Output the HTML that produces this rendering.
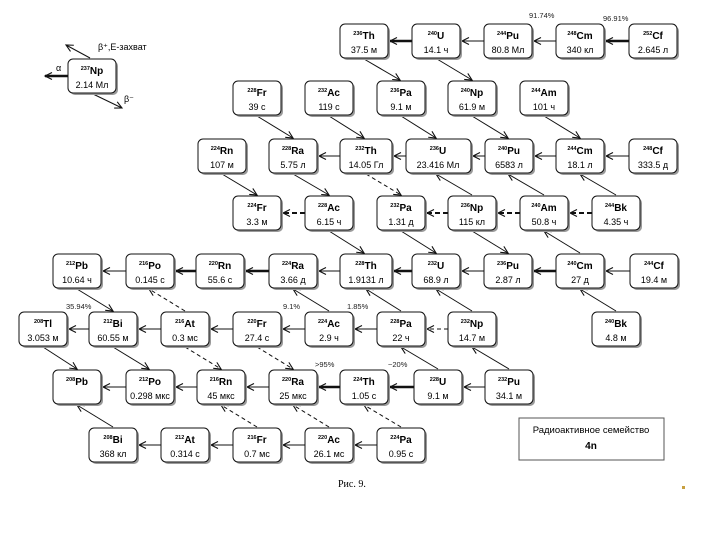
<!DOCTYPE html>
<html><head><meta charset="utf-8"><style>
html,body{margin:0;padding:0;background:#fff}
svg{display:block}
.m{font:bold 5.5px "Liberation Sans",sans-serif}
.y{font:bold 10px "Liberation Sans",sans-serif}
.l{font:9px "Liberation Sans","DejaVu Sans",sans-serif}
.p{font:7.5px "Liberation Sans",sans-serif;fill:#222}
line{stroke:#111;stroke-width:1;marker-end:url(#a)}
line.t{stroke-width:2.5;marker-end:url(#a)}
line.d{stroke-dasharray:4,3}
line.dt{stroke-dasharray:5,3;stroke-width:2}
</style></head><body>
<svg width="720" height="540" viewBox="0 0 720 540" xmlns="http://www.w3.org/2000/svg">
<defs>
<marker id="a" markerWidth="10" markerHeight="10" refX="8" refY="4" orient="auto" markerUnits="userSpaceOnUse">
<path d="M1,0.5 L8,4 L1,7.5" fill="none" stroke="#111" stroke-width="1.1"/>
</marker>
<g id="bx"><rect x="2" y="2" width="48" height="34" rx="5" fill="#9a9a9a"/><rect x="0" y="0" width="48" height="34" rx="5" fill="#fff" stroke="#111" stroke-width="1"/></g>
<g id="bw"><rect x="2" y="2" width="52" height="34" rx="5" fill="#9a9a9a"/><rect x="0" y="0" width="52" height="34" rx="5" fill="#fff" stroke="#111" stroke-width="1"/></g>
<g id="bu"><rect x="2" y="2" width="65" height="34" rx="5" fill="#9a9a9a"/><rect x="0" y="0" width="65" height="34" rx="5" fill="#fff" stroke="#111" stroke-width="1"/></g>
</defs>

<!-- legend Np237 -->
<line class="t" x1="68" y1="76" x2="45" y2="76"/>
<line x1="90" y1="58" x2="66" y2="45"/>
<line x1="93" y1="94" x2="122" y2="108"/>
<text class="l" x="56" y="71" font-size="8">α</text>
<text class="l" x="98" y="50" font-size="10">β⁺,E-захват</text>
<text class="l" x="124" y="102" font-size="10">β⁻</text>
<g transform="translate(68,59)"><use href="#bx"/><text x="24" y="15" text-anchor="middle"><tspan class="m" dy="-4">237</tspan><tspan class="y" dy="4">Np</tspan></text><text class="l" x="24" y="29" text-anchor="middle">2.14 Мл</text></g>

<!-- horizontal arrows -->
<line class="t" x1="412" y1="41" x2="390" y2="41"/>
<line x1="484" y1="41" x2="462" y2="41"/>
<line x1="556" y1="41" x2="534" y2="41"/>
<line class="t" x1="629" y1="41" x2="606" y2="41"/>

<line x1="340" y1="156" x2="319" y2="156"/>
<line x1="406" y1="156" x2="394" y2="156"/>
<line x1="485" y1="156" x2="473" y2="156"/>
<line x1="556" y1="156" x2="535" y2="156"/>
<line x1="629" y1="156" x2="606" y2="156"/>

<line class="dt" x1="305" y1="213" x2="283" y2="213"/>
<line class="dt" x1="448" y1="213" x2="427" y2="213"/>
<line class="dt" x1="520" y1="213" x2="498" y2="213"/>
<line class="dt" x1="592" y1="213" x2="570" y2="213"/>

<line x1="126" y1="271" x2="103" y2="271"/>
<line class="t" x1="196" y1="271" x2="176" y2="271"/>
<line class="t" x1="269" y1="271" x2="246" y2="271"/>
<line x1="340" y1="271" x2="319" y2="271"/>
<line class="t" x1="412" y1="271" x2="394" y2="271"/>
<line x1="484" y1="271" x2="462" y2="271"/>
<line class="t" x1="556" y1="271" x2="534" y2="271"/>
<line x1="630" y1="271" x2="606" y2="271"/>

<line x1="89" y1="329" x2="69" y2="329"/>
<line x1="161" y1="329" x2="139" y2="329"/>
<line x1="233" y1="329" x2="211" y2="329"/>
<line x1="305" y1="329" x2="283" y2="329"/>
<line x1="377" y1="329" x2="355" y2="329"/>
<line class="d" x1="448" y1="329" x2="427" y2="329"/>

<line x1="126" y1="387" x2="103" y2="387"/>
<line x1="197" y1="387" x2="176" y2="387"/>
<line x1="269" y1="387" x2="247" y2="387"/>
<line class="t" x1="340" y1="387" x2="319" y2="387"/>
<line class="t" x1="414" y1="387" x2="390" y2="387"/>
<line x1="485" y1="387" x2="464" y2="387"/>

<line x1="161" y1="445" x2="139" y2="445"/>
<line x1="233" y1="445" x2="211" y2="445"/>
<line x1="305" y1="445" x2="283" y2="445"/>
<line x1="377" y1="445" x2="355" y2="445"/>

<!-- diagonals -->
<line x1="364" y1="59" x2="400" y2="80"/>
<line x1="437" y1="59" x2="472" y2="80"/>
<line x1="257" y1="116" x2="293" y2="138"/>
<line x1="329" y1="116" x2="364" y2="138"/>
<line x1="401" y1="116" x2="436" y2="138"/>
<line x1="472" y1="116" x2="508" y2="138"/>
<line x1="544" y1="116" x2="580" y2="138"/>
<line x1="222" y1="174" x2="257" y2="195"/>
<line x1="293" y1="174" x2="329" y2="195"/>
<line class="d" x1="366" y1="174" x2="401" y2="195"/>
<line x1="329" y1="231" x2="364" y2="253"/>
<line x1="401" y1="231" x2="436" y2="253"/>
<line x1="472" y1="231" x2="508" y2="253"/>
<line x1="77" y1="289" x2="113" y2="311"/>
<line x1="43" y1="347" x2="77" y2="369"/>
<line x1="113" y1="347" x2="149" y2="369"/>
<line class="d" x1="185" y1="347" x2="221" y2="369"/>
<line class="d" x1="257" y1="347" x2="293" y2="369"/>

<line x1="472" y1="195" x2="436" y2="174"/>
<line x1="544" y1="195" x2="508" y2="174"/>
<line x1="616" y1="195" x2="580" y2="174"/>
<line x1="580" y1="253" x2="544" y2="231"/>
<line x1="329" y1="311" x2="293" y2="289"/>
<line x1="401" y1="311" x2="366" y2="289"/>
<line x1="472" y1="311" x2="436" y2="289"/>
<line x1="616" y1="311" x2="580" y2="289"/>
<line class="d" x1="185" y1="311" x2="149" y2="289"/>
<line x1="438" y1="369" x2="401" y2="347"/>
<line x1="509" y1="369" x2="472" y2="347"/>
<line x1="113" y1="427" x2="77" y2="405"/>
<line class="d" x1="257" y1="427" x2="221" y2="405"/>
<line class="d" x1="329" y1="427" x2="293" y2="405"/>
<line class="d" x1="401" y1="427" x2="364" y2="405"/>

<!-- percent labels -->
<text class="p" x="529" y="18">91.74%</text>
<text class="p" x="603" y="21">96.91%</text>
<text class="p" x="66" y="309">35.94%</text>
<text class="p" x="283" y="309">9.1%</text>
<text class="p" x="347" y="309">1.85%</text>
<text class="p" x="315" y="367">&gt;95%</text>
<text class="p" x="388" y="367">~20%</text>

<!-- boxes -->
<g transform="translate(340,24)"><use href="#bx"/><text x="24" y="15" text-anchor="middle"><tspan class="m" dy="-4">236</tspan><tspan class="y" dy="4">Th</tspan></text><text class="l" x="24" y="29" text-anchor="middle">37.5 м</text></g>
<g transform="translate(412,24)"><use href="#bx"/><text x="24" y="15" text-anchor="middle"><tspan class="m" dy="-4">240</tspan><tspan class="y" dy="4">U</tspan></text><text class="l" x="24" y="29" text-anchor="middle">14.1 ч</text></g>
<g transform="translate(484,24)"><use href="#bx"/><text x="24" y="15" text-anchor="middle"><tspan class="m" dy="-4">244</tspan><tspan class="y" dy="4">Pu</tspan></text><text class="l" x="24" y="29" text-anchor="middle">80.8 Мл</text></g>
<g transform="translate(556,24)"><use href="#bx"/><text x="24" y="15" text-anchor="middle"><tspan class="m" dy="-4">248</tspan><tspan class="y" dy="4">Cm</tspan></text><text class="l" x="24" y="29" text-anchor="middle">340 кл</text></g>
<g transform="translate(629,24)"><use href="#bx"/><text x="24" y="15" text-anchor="middle"><tspan class="m" dy="-4">252</tspan><tspan class="y" dy="4">Cf</tspan></text><text class="l" x="24" y="29" text-anchor="middle">2.645 л</text></g>

<g transform="translate(233,81)"><use href="#bx"/><text x="24" y="15" text-anchor="middle"><tspan class="m" dy="-4">228</tspan><tspan class="y" dy="4">Fr</tspan></text><text class="l" x="24" y="29" text-anchor="middle">39 с</text></g>
<g transform="translate(305,81)"><use href="#bx"/><text x="24" y="15" text-anchor="middle"><tspan class="m" dy="-4">232</tspan><tspan class="y" dy="4">Ac</tspan></text><text class="l" x="24" y="29" text-anchor="middle">119 с</text></g>
<g transform="translate(377,81)"><use href="#bx"/><text x="24" y="15" text-anchor="middle"><tspan class="m" dy="-4">236</tspan><tspan class="y" dy="4">Pa</tspan></text><text class="l" x="24" y="29" text-anchor="middle">9.1 м</text></g>
<g transform="translate(448,81)"><use href="#bx"/><text x="24" y="15" text-anchor="middle"><tspan class="m" dy="-4">240</tspan><tspan class="y" dy="4">Np</tspan></text><text class="l" x="24" y="29" text-anchor="middle">61.9 м</text></g>
<g transform="translate(520,81)"><use href="#bx"/><text x="24" y="15" text-anchor="middle"><tspan class="m" dy="-4">244</tspan><tspan class="y" dy="4">Am</tspan></text><text class="l" x="24" y="29" text-anchor="middle">101 ч</text></g>

<g transform="translate(198,139)"><use href="#bx"/><text x="24" y="15" text-anchor="middle"><tspan class="m" dy="-4">224</tspan><tspan class="y" dy="4">Rn</tspan></text><text class="l" x="24" y="29" text-anchor="middle">107 м</text></g>
<g transform="translate(269,139)"><use href="#bx"/><text x="24" y="15" text-anchor="middle"><tspan class="m" dy="-4">228</tspan><tspan class="y" dy="4">Ra</tspan></text><text class="l" x="24" y="29" text-anchor="middle">5.75 л</text></g>
<g transform="translate(340,139)"><use href="#bw"/><text x="26" y="15" text-anchor="middle"><tspan class="m" dy="-4">232</tspan><tspan class="y" dy="4">Th</tspan></text><text class="l" x="26" y="29" text-anchor="middle">14.05 Гл</text></g>
<g transform="translate(406,139)"><use href="#bu"/><text x="32" y="15" text-anchor="middle"><tspan class="m" dy="-4">236</tspan><tspan class="y" dy="4">U</tspan></text><text class="l" x="32" y="29" text-anchor="middle">23.416 Мл</text></g>
<g transform="translate(485,139)"><use href="#bx"/><text x="24" y="15" text-anchor="middle"><tspan class="m" dy="-4">240</tspan><tspan class="y" dy="4">Pu</tspan></text><text class="l" x="24" y="29" text-anchor="middle">6583 л</text></g>
<g transform="translate(556,139)"><use href="#bx"/><text x="24" y="15" text-anchor="middle"><tspan class="m" dy="-4">244</tspan><tspan class="y" dy="4">Cm</tspan></text><text class="l" x="24" y="29" text-anchor="middle">18.1 л</text></g>
<g transform="translate(629,139)"><use href="#bx"/><text x="24" y="15" text-anchor="middle"><tspan class="m" dy="-4">248</tspan><tspan class="y" dy="4">Cf</tspan></text><text class="l" x="24" y="29" text-anchor="middle">333.5 д</text></g>

<g transform="translate(233,196)"><use href="#bx"/><text x="24" y="15" text-anchor="middle"><tspan class="m" dy="-4">224</tspan><tspan class="y" dy="4">Fr</tspan></text><text class="l" x="24" y="29" text-anchor="middle">3.3 м</text></g>
<g transform="translate(305,196)"><use href="#bx"/><text x="24" y="15" text-anchor="middle"><tspan class="m" dy="-4">228</tspan><tspan class="y" dy="4">Ac</tspan></text><text class="l" x="24" y="29" text-anchor="middle">6.15 ч</text></g>
<g transform="translate(377,196)"><use href="#bx"/><text x="24" y="15" text-anchor="middle"><tspan class="m" dy="-4">232</tspan><tspan class="y" dy="4">Pa</tspan></text><text class="l" x="24" y="29" text-anchor="middle">1.31 д</text></g>
<g transform="translate(448,196)"><use href="#bx"/><text x="24" y="15" text-anchor="middle"><tspan class="m" dy="-4">236</tspan><tspan class="y" dy="4">Np</tspan></text><text class="l" x="24" y="29" text-anchor="middle">115 кл</text></g>
<g transform="translate(520,196)"><use href="#bx"/><text x="24" y="15" text-anchor="middle"><tspan class="m" dy="-4">240</tspan><tspan class="y" dy="4">Am</tspan></text><text class="l" x="24" y="29" text-anchor="middle">50.8 ч</text></g>
<g transform="translate(592,196)"><use href="#bx"/><text x="24" y="15" text-anchor="middle"><tspan class="m" dy="-4">244</tspan><tspan class="y" dy="4">Bk</tspan></text><text class="l" x="24" y="29" text-anchor="middle">4.35 ч</text></g>

<g transform="translate(53,254)"><use href="#bx"/><text x="24" y="15" text-anchor="middle"><tspan class="m" dy="-4">212</tspan><tspan class="y" dy="4">Pb</tspan></text><text class="l" x="24" y="29" text-anchor="middle">10.64 ч</text></g>
<g transform="translate(126,254)"><use href="#bx"/><text x="24" y="15" text-anchor="middle"><tspan class="m" dy="-4">216</tspan><tspan class="y" dy="4">Po</tspan></text><text class="l" x="24" y="29" text-anchor="middle">0.145 с</text></g>
<g transform="translate(196,254)"><use href="#bx"/><text x="24" y="15" text-anchor="middle"><tspan class="m" dy="-4">220</tspan><tspan class="y" dy="4">Rn</tspan></text><text class="l" x="24" y="29" text-anchor="middle">55.6 с</text></g>
<g transform="translate(269,254)"><use href="#bx"/><text x="24" y="15" text-anchor="middle"><tspan class="m" dy="-4">224</tspan><tspan class="y" dy="4">Ra</tspan></text><text class="l" x="24" y="29" text-anchor="middle">3.66 д</text></g>
<g transform="translate(340,254)"><use href="#bw"/><text x="26" y="15" text-anchor="middle"><tspan class="m" dy="-4">228</tspan><tspan class="y" dy="4">Th</tspan></text><text class="l" x="26" y="29" text-anchor="middle">1.9131 л</text></g>
<g transform="translate(412,254)"><use href="#bx"/><text x="24" y="15" text-anchor="middle"><tspan class="m" dy="-4">232</tspan><tspan class="y" dy="4">U</tspan></text><text class="l" x="24" y="29" text-anchor="middle">68.9 л</text></g>
<g transform="translate(484,254)"><use href="#bx"/><text x="24" y="15" text-anchor="middle"><tspan class="m" dy="-4">236</tspan><tspan class="y" dy="4">Pu</tspan></text><text class="l" x="24" y="29" text-anchor="middle">2.87 л</text></g>
<g transform="translate(556,254)"><use href="#bx"/><text x="24" y="15" text-anchor="middle"><tspan class="m" dy="-4">240</tspan><tspan class="y" dy="4">Cm</tspan></text><text class="l" x="24" y="29" text-anchor="middle">27 д</text></g>
<g transform="translate(630,254)"><use href="#bx"/><text x="24" y="15" text-anchor="middle"><tspan class="m" dy="-4">244</tspan><tspan class="y" dy="4">Cf</tspan></text><text class="l" x="24" y="29" text-anchor="middle">19.4 м</text></g>

<g transform="translate(19,312)"><use href="#bx"/><text x="24" y="15" text-anchor="middle"><tspan class="m" dy="-4">208</tspan><tspan class="y" dy="4">Tl</tspan></text><text class="l" x="24" y="29" text-anchor="middle">3.053 м</text></g>
<g transform="translate(89,312)"><use href="#bx"/><text x="24" y="15" text-anchor="middle"><tspan class="m" dy="-4">212</tspan><tspan class="y" dy="4">Bi</tspan></text><text class="l" x="24" y="29" text-anchor="middle">60.55 м</text></g>
<g transform="translate(161,312)"><use href="#bx"/><text x="24" y="15" text-anchor="middle"><tspan class="m" dy="-4">216</tspan><tspan class="y" dy="4">At</tspan></text><text class="l" x="24" y="29" text-anchor="middle">0.3 мс</text></g>
<g transform="translate(233,312)"><use href="#bx"/><text x="24" y="15" text-anchor="middle"><tspan class="m" dy="-4">220</tspan><tspan class="y" dy="4">Fr</tspan></text><text class="l" x="24" y="29" text-anchor="middle">27.4 с</text></g>
<g transform="translate(305,312)"><use href="#bx"/><text x="24" y="15" text-anchor="middle"><tspan class="m" dy="-4">224</tspan><tspan class="y" dy="4">Ac</tspan></text><text class="l" x="24" y="29" text-anchor="middle">2.9 ч</text></g>
<g transform="translate(377,312)"><use href="#bx"/><text x="24" y="15" text-anchor="middle"><tspan class="m" dy="-4">228</tspan><tspan class="y" dy="4">Pa</tspan></text><text class="l" x="24" y="29" text-anchor="middle">22 ч</text></g>
<g transform="translate(448,312)"><use href="#bx"/><text x="24" y="15" text-anchor="middle"><tspan class="m" dy="-4">232</tspan><tspan class="y" dy="4">Np</tspan></text><text class="l" x="24" y="29" text-anchor="middle">14.7 м</text></g>
<g transform="translate(592,312)"><use href="#bx"/><text x="24" y="15" text-anchor="middle"><tspan class="m" dy="-4">240</tspan><tspan class="y" dy="4">Bk</tspan></text><text class="l" x="24" y="29" text-anchor="middle">4.8 м</text></g>

<g transform="translate(53,370)"><use href="#bx"/><text x="24" y="15" text-anchor="middle"><tspan class="m" dy="-4">208</tspan><tspan class="y" dy="4">Pb</tspan></text></g>
<g transform="translate(126,370)"><use href="#bx"/><text x="24" y="15" text-anchor="middle"><tspan class="m" dy="-4">212</tspan><tspan class="y" dy="4">Po</tspan></text><text class="l" x="24" y="29" text-anchor="middle" font-size="8.5">0.298 мкс</text></g>
<g transform="translate(197,370)"><use href="#bx"/><text x="24" y="15" text-anchor="middle"><tspan class="m" dy="-4">216</tspan><tspan class="y" dy="4">Rn</tspan></text><text class="l" x="24" y="29" text-anchor="middle">45 мкс</text></g>
<g transform="translate(269,370)"><use href="#bx"/><text x="24" y="15" text-anchor="middle"><tspan class="m" dy="-4">220</tspan><tspan class="y" dy="4">Ra</tspan></text><text class="l" x="24" y="29" text-anchor="middle">25 мкс</text></g>
<g transform="translate(340,370)"><use href="#bx"/><text x="24" y="15" text-anchor="middle"><tspan class="m" dy="-4">224</tspan><tspan class="y" dy="4">Th</tspan></text><text class="l" x="24" y="29" text-anchor="middle">1.05 с</text></g>
<g transform="translate(414,370)"><use href="#bx"/><text x="24" y="15" text-anchor="middle"><tspan class="m" dy="-4">228</tspan><tspan class="y" dy="4">U</tspan></text><text class="l" x="24" y="29" text-anchor="middle">9.1 м</text></g>
<g transform="translate(485,370)"><use href="#bx"/><text x="24" y="15" text-anchor="middle"><tspan class="m" dy="-4">232</tspan><tspan class="y" dy="4">Pu</tspan></text><text class="l" x="24" y="29" text-anchor="middle">34.1 м</text></g>

<g transform="translate(89,428)"><use href="#bx"/><text x="24" y="15" text-anchor="middle"><tspan class="m" dy="-4">208</tspan><tspan class="y" dy="4">Bi</tspan></text><text class="l" x="24" y="29" text-anchor="middle">368 кл</text></g>
<g transform="translate(161,428)"><use href="#bx"/><text x="24" y="15" text-anchor="middle"><tspan class="m" dy="-4">212</tspan><tspan class="y" dy="4">At</tspan></text><text class="l" x="24" y="29" text-anchor="middle">0.314 с</text></g>
<g transform="translate(233,428)"><use href="#bx"/><text x="24" y="15" text-anchor="middle"><tspan class="m" dy="-4">216</tspan><tspan class="y" dy="4">Fr</tspan></text><text class="l" x="24" y="29" text-anchor="middle">0.7 мс</text></g>
<g transform="translate(305,428)"><use href="#bx"/><text x="24" y="15" text-anchor="middle"><tspan class="m" dy="-4">220</tspan><tspan class="y" dy="4">Ac</tspan></text><text class="l" x="24" y="29" text-anchor="middle">26.1 мс</text></g>
<g transform="translate(377,428)"><use href="#bx"/><text x="24" y="15" text-anchor="middle"><tspan class="m" dy="-4">224</tspan><tspan class="y" dy="4">Pa</tspan></text><text class="l" x="24" y="29" text-anchor="middle">0.95 с</text></g>

<!-- legend -->
<rect x="519" y="418" width="145" height="42" fill="#fff" stroke="#555" stroke-width="1"/>
<text x="591" y="433" text-anchor="middle" font-family="Liberation Sans, sans-serif" font-size="9.5">Радиоактивное семейство</text>
<text x="591" y="449" text-anchor="middle" font-family="Liberation Sans, sans-serif" font-size="10" font-weight="bold">4n</text>

<text x="338" y="487" font-family="Liberation Serif, serif" font-size="10">Рис. 9.</text>
<rect x="682" y="486" width="3" height="3" fill="#c8a040"/>
</svg>
</body></html>
